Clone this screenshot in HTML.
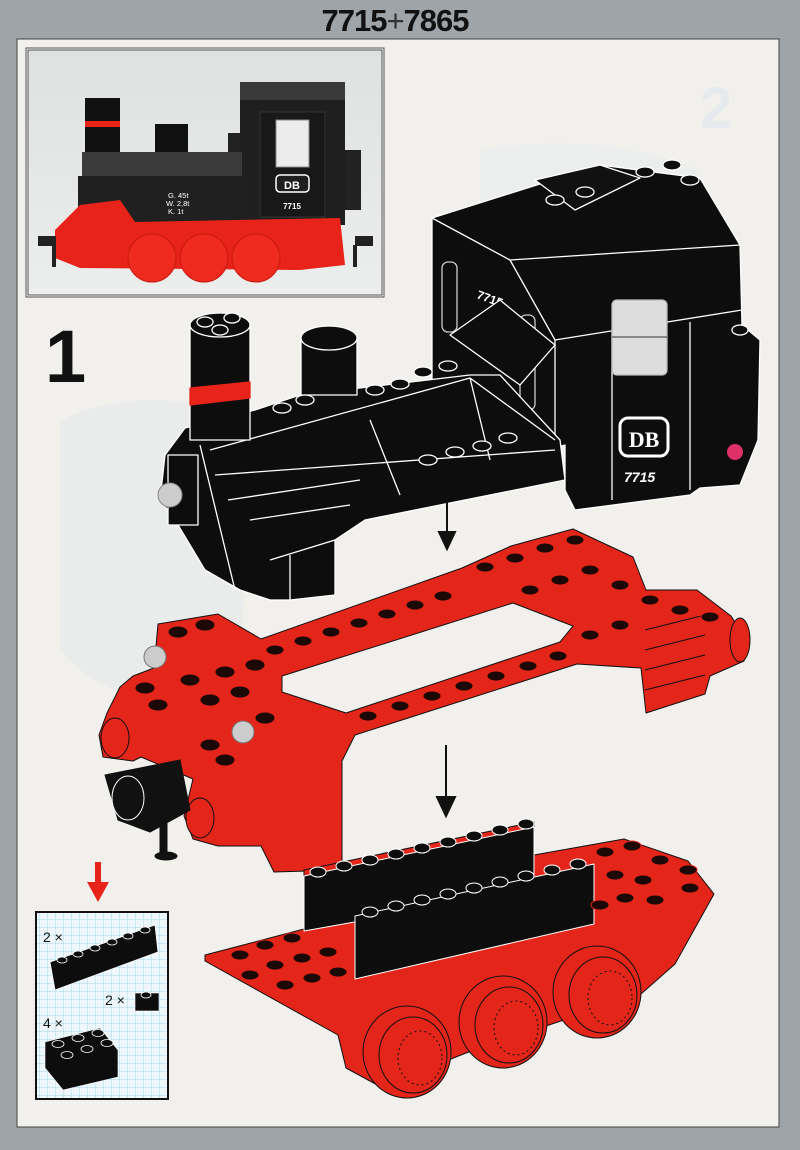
<!DOCTYPE html>
<html><head><meta charset="utf-8"><style>
html,body{margin:0;padding:0;width:800px;height:1150px;overflow:hidden;background:#9da3a7}
svg{display:block}
</style></head><body>
<svg width="800" height="1150" viewBox="0 0 800 1150" xmlns="http://www.w3.org/2000/svg" font-family="Liberation Sans, sans-serif">
<defs>
<pattern id="grid" width="8" height="8" patternUnits="userSpaceOnUse">
<rect width="8" height="8" fill="#eef7fb"/>
<path d="M8 0V8M0 8H8" stroke="#8ccbe8" stroke-width="0.7"/>
</pattern>
<linearGradient id="ph" x1="0" y1="0" x2="0" y2="1"><stop offset="0" stop-color="#dde1e0"/><stop offset="1" stop-color="#eceeed"/></linearGradient>
</defs>
<rect width="800" height="1150" fill="#9ea4a8"/>
<text x="395" y="31" text-anchor="middle" font-size="31" font-weight="bold" fill="#111" letter-spacing="-1">7715<tspan font-weight="normal" fill="#333">+</tspan>7865</text>
<rect x="17" y="39" width="762" height="1088" fill="#f1f0ec" stroke="#444" stroke-width="1"/>
<text x="700" y="128" font-size="58" font-weight="bold" fill="#e6eaed">2</text>
<path d="M60 420 Q150 380 250 420 L240 700 Q120 720 60 650Z" fill="#e6eaec" opacity="0.6"/>
<path d="M480 150 Q600 130 700 170 L720 300 L480 300Z" fill="#e8ecee" opacity="0.6"/>
<!-- photo -->
<rect x="26" y="48" width="358" height="249" fill="#f4f4f2" stroke="#555" stroke-width="1"/>
<rect x="28" y="50" width="354" height="245" fill="url(#ph)" stroke="#333" stroke-width="0.8"/>
<rect x="240" y="82" width="105" height="20" fill="#3a3a3a"/>
<rect x="240" y="100" width="105" height="125" fill="#1f1f1f"/>
<rect x="260" y="112" width="65" height="105" fill="#181818" stroke="#333"/>
<rect x="276" y="120" width="33" height="47" fill="#ececec" stroke="#888"/>
<rect x="276" y="175" width="33" height="17" rx="4" fill="#1f1f1f" stroke="#fff" stroke-width="1.5"/>
<text x="292" y="189" text-anchor="middle" font-size="11" font-weight="bold" fill="#fff">DB</text>
<text x="292" y="209" text-anchor="middle" font-size="8" font-weight="bold" fill="#fff">7715</text>
<rect x="228" y="133" width="12" height="20" fill="#222"/>
<rect x="345" y="150" width="16" height="60" fill="#222"/>
<rect x="85" y="98" width="35" height="55" fill="#111"/>
<rect x="85" y="121" width="35" height="6" fill="#e8241a"/>
<rect x="155" y="124" width="33" height="30" fill="#111"/>
<rect x="82" y="152" width="160" height="24" fill="#3b3b3b"/>
<rect x="78" y="176" width="170" height="46" fill="#202020"/>
<text x="168" y="198" font-size="7.5" fill="#fff">G. 45t</text>
<text x="166" y="206" font-size="7.5" fill="#fff">W. 2,8t</text>
<text x="168" y="214" font-size="7.5" fill="#fff">K.   1t</text>
<path d="M55 230 L80 205 L120 200 L135 222 L340 218 L345 265 L300 270 L80 268 L55 258Z" fill="#e8241a"/>
<rect x="38" y="236" width="18" height="10" fill="#222"/><rect x="52" y="245" width="4" height="22" fill="#222"/>
<rect x="355" y="236" width="18" height="10" fill="#222"/><rect x="353" y="245" width="4" height="22" fill="#222"/>
<circle cx="152" cy="258" r="24" fill="#ef2a1e" stroke="#c81810"/>
<circle cx="204" cy="258" r="24" fill="#ef2a1e" stroke="#c81810"/>
<circle cx="256" cy="258" r="24" fill="#ef2a1e" stroke="#c81810"/>
<text x="45" y="382" font-size="74" font-weight="bold" fill="#111">1</text>
<!-- BLACK LOCO -->
<g stroke="#fff" stroke-width="1.3" stroke-linejoin="round">
<path d="M432 218 L600 165 L700 178 L740 245 L742 325 L760 340 L758 440 L740 485 L700 488 L690 495 L575 510 L565 490 L565 445 L495 465 L432 470Z" fill="#0d0d0d"/>
<path d="M535 180 L600 165 L640 178 L575 210Z" fill="#111"/>
<path d="M432 218 L510 260 L740 245 M510 260 L555 340 L742 310 M555 340 L555 470 M612 330 L612 500 M690 322 L690 490" fill="none"/>
<rect x="612" y="300" width="55" height="75" rx="5" fill="#ddd" stroke="#bbb"/>
<path d="M612 337 H667" stroke="#555"/>
<rect x="442" y="262" width="15" height="70" rx="6" fill="#0d0d0d" stroke="#ccc"/>
<rect x="520" y="315" width="15" height="95" rx="6" fill="#0d0d0d" stroke="#ccc"/>
<text x="476" y="298" font-size="12" font-weight="bold" fill="#fff" stroke="none" transform="rotate(20 476 298)">7715</text>
<rect x="620" y="418" width="48" height="38" rx="8" fill="#0d0d0d" stroke="#fff" stroke-width="3"/>
<text x="644" y="447" text-anchor="middle" font-size="22" font-weight="bold" fill="#fff" stroke="none" font-family="Liberation Serif, serif">DB</text>
<text x="624" y="482" font-size="14" font-weight="bold" fill="#fff" stroke="none" font-style="italic">7715</text>
<path d="M450 335 L500 300 L555 345 L520 385Z" fill="#0d0d0d"/>
<path d="M165 455 L185 428 L255 410 L300 395 L470 375 L500 375 L560 440 L565 480 L365 520 L335 540 L335 595 L290 600 L270 600 L240 590 L205 570 L175 520 L160 500Z" fill="#0d0d0d"/>
<path d="M210 450 L470 378 L555 440 M215 475 L555 450 M228 500 L360 480 M250 520 L350 505 M335 540 L270 560 M290 600 L290 555 M370 420 L400 495 M470 378 L490 460 M200 445 L235 590" fill="none"/>
<path d="M190 325 V440 H250 V325Z" fill="#0d0d0d"/>
<ellipse cx="220" cy="325" rx="30" ry="12" fill="#0d0d0d"/>
<path d="M190 388 L250 382 L250 398 L190 405Z" fill="#e8241a" stroke="#e8241a"/>
<path d="M301 338 V395 H357 V338Z" fill="#0d0d0d"/>
<ellipse cx="329" cy="338" rx="28" ry="12" fill="#0d0d0d"/>
<ellipse cx="205" cy="322" rx="8" ry="5" fill="#0d0d0d"/><ellipse cx="232" cy="318" rx="8" ry="5" fill="#0d0d0d"/><ellipse cx="220" cy="330" rx="8" ry="5" fill="#0d0d0d"/>
<g fill="#0d0d0d">
<ellipse cx="282" cy="408" rx="9" ry="5"/><ellipse cx="305" cy="400" rx="9" ry="5"/><ellipse cx="375" cy="390" rx="9" ry="5"/><ellipse cx="400" cy="384" rx="9" ry="5"/><ellipse cx="423" cy="372" rx="9" ry="5"/><ellipse cx="448" cy="366" rx="9" ry="5"/><ellipse cx="428" cy="460" rx="9" ry="5"/><ellipse cx="455" cy="452" rx="9" ry="5"/><ellipse cx="482" cy="446" rx="9" ry="5"/><ellipse cx="508" cy="438" rx="9" ry="5"/><ellipse cx="555" cy="200" rx="9" ry="5"/><ellipse cx="585" cy="192" rx="9" ry="5"/><ellipse cx="645" cy="172" rx="9" ry="5"/><ellipse cx="672" cy="165" rx="9" ry="5"/><ellipse cx="690" cy="180" rx="9" ry="5"/><ellipse cx="740" cy="330" rx="8" ry="5"/>
</g>
<rect x="168" y="455" width="30" height="70" fill="#0d0d0d"/>
</g>
<circle cx="170" cy="495" r="12" fill="#ccc" stroke="#888"/>
<circle cx="735" cy="452" r="8" fill="#e0306a"/>
<g stroke="#111" stroke-width="2" fill="#111">
<line x1="447" y1="497" x2="447" y2="535"/><path d="M439 532 L455 532 L447 549Z"/>
<line x1="446" y1="745" x2="446" y2="800"/><path d="M437 797 L455 797 L446 816Z"/>
</g>
<rect x="95" y="862" width="6" height="22" fill="#e8241a"/><path d="M87 882 L109 882 L98 902Z" fill="#e8241a"/>
<!-- RED CHASSIS -->
<g stroke="#111" stroke-width="1" stroke-linejoin="round">
<path d="M158 624 L218 614 L261 639 L462 568 L511 546 L573 529 L633 557 L646 590 L697 590 L731 616 L748 642 L744 661 L710 676 L705 694 L646 713 L641 668 L577 664 L355 735 L342 761 L342 870 L274 872 L261 846 L218 846 L193 839 L184 816 L193 779 L141 757 L133 761 L103 757 L99 735 L107 713 L120 687 L133 676 L154 668Z" fill="#e42519"/>
<path d="M282 676 L513 603 L573 626 L560 642 L346 713 L282 692Z" fill="#f1f0ec"/>
<path d="M645 630 L705 615 M645 650 L705 635 M645 670 L705 655 M645 690 L705 675" stroke="#111" fill="none"/>
<ellipse cx="115" cy="738" rx="14" ry="20" fill="#e42519"/>
<ellipse cx="200" cy="818" rx="14" ry="20" fill="#e42519"/>
<ellipse cx="740" cy="640" rx="10" ry="22" fill="#e42519"/>
<path d="M105 775 L180 760 L190 810 L150 832 L118 820Z" fill="#111"/>
<ellipse cx="128" cy="798" rx="16" ry="22" fill="#111" stroke="#fff"/>
<rect x="160" y="810" width="7" height="45" fill="#111"/>
<ellipse cx="166" cy="856" rx="11" ry="4" fill="#111"/>
<g fill="#1c0806" stroke="#e42519">
<ellipse cx="178" cy="632" rx="10" ry="6"/><ellipse cx="205" cy="625" rx="10" ry="6"/><ellipse cx="145" cy="688" rx="10" ry="6"/><ellipse cx="190" cy="680" rx="10" ry="6"/><ellipse cx="225" cy="672" rx="10" ry="6"/><ellipse cx="255" cy="665" rx="10" ry="6"/><ellipse cx="158" cy="705" rx="10" ry="6"/><ellipse cx="210" cy="700" rx="10" ry="6"/><ellipse cx="240" cy="692" rx="10" ry="6"/><ellipse cx="265" cy="718" rx="10" ry="6"/><ellipse cx="210" cy="745" rx="10" ry="6"/><ellipse cx="225" cy="760" rx="10" ry="6"/>
<ellipse cx="275" cy="650" rx="9" ry="5"/><ellipse cx="303" cy="641" rx="9" ry="5"/><ellipse cx="331" cy="632" rx="9" ry="5"/><ellipse cx="359" cy="623" rx="9" ry="5"/><ellipse cx="387" cy="614" rx="9" ry="5"/><ellipse cx="415" cy="605" rx="9" ry="5"/><ellipse cx="443" cy="596" rx="9" ry="5"/><ellipse cx="485" cy="567" rx="9" ry="5"/><ellipse cx="515" cy="558" rx="9" ry="5"/><ellipse cx="545" cy="548" rx="9" ry="5"/><ellipse cx="575" cy="540" rx="9" ry="5"/><ellipse cx="530" cy="590" rx="9" ry="5"/><ellipse cx="560" cy="580" rx="9" ry="5"/><ellipse cx="590" cy="570" rx="9" ry="5"/><ellipse cx="620" cy="585" rx="9" ry="5"/><ellipse cx="650" cy="600" rx="9" ry="5"/><ellipse cx="680" cy="610" rx="9" ry="5"/><ellipse cx="710" cy="617" rx="9" ry="5"/><ellipse cx="590" cy="635" rx="9" ry="5"/><ellipse cx="620" cy="625" rx="9" ry="5"/>
<ellipse cx="368" cy="716" rx="9" ry="5"/><ellipse cx="400" cy="706" rx="9" ry="5"/><ellipse cx="432" cy="696" rx="9" ry="5"/><ellipse cx="464" cy="686" rx="9" ry="5"/><ellipse cx="496" cy="676" rx="9" ry="5"/><ellipse cx="528" cy="666" rx="9" ry="5"/><ellipse cx="558" cy="656" rx="9" ry="5"/>
</g>
</g>
<circle cx="155" cy="657" r="11" fill="#ccc" stroke="#777"/>
<circle cx="243" cy="732" r="11" fill="#ccc" stroke="#777"/>
<!-- WHEEL BASE -->
<g stroke="#111" stroke-width="1" stroke-linejoin="round">
<path d="M205 955 L304 929 L304 870 L534 822 L534 855 L624 839 L688 861 L714 894 L675 964 L641 994 L466 1053 L381 1087 L346 1068 L338 1035 L205 961Z" fill="#e42519"/>
<path d="M304 876 L534 827 L534 890 L304 931Z" fill="#0d0d0d" stroke="#fff"/>
<path d="M355 916 L594 864 L594 924 L355 979Z" fill="#0d0d0d" stroke="#fff"/>
<g fill="#0d0d0d" stroke="#fff">
<ellipse cx="318" cy="872" rx="8" ry="5"/><ellipse cx="344" cy="866" rx="8" ry="5"/><ellipse cx="370" cy="860" rx="8" ry="5"/><ellipse cx="396" cy="854" rx="8" ry="5"/><ellipse cx="422" cy="848" rx="8" ry="5"/><ellipse cx="448" cy="842" rx="8" ry="5"/><ellipse cx="474" cy="836" rx="8" ry="5"/><ellipse cx="500" cy="830" rx="8" ry="5"/><ellipse cx="526" cy="824" rx="8" ry="5"/>
<ellipse cx="370" cy="912" rx="8" ry="5"/><ellipse cx="396" cy="906" rx="8" ry="5"/><ellipse cx="422" cy="900" rx="8" ry="5"/><ellipse cx="448" cy="894" rx="8" ry="5"/><ellipse cx="474" cy="888" rx="8" ry="5"/><ellipse cx="500" cy="882" rx="8" ry="5"/><ellipse cx="526" cy="876" rx="8" ry="5"/><ellipse cx="552" cy="870" rx="8" ry="5"/><ellipse cx="578" cy="864" rx="8" ry="5"/>
</g>
<g fill="#1c0806" stroke="#e42519">
<ellipse cx="265" cy="945" rx="9" ry="5"/><ellipse cx="292" cy="938" rx="9" ry="5"/><ellipse cx="275" cy="965" rx="9" ry="5"/><ellipse cx="302" cy="958" rx="9" ry="5"/><ellipse cx="328" cy="952" rx="9" ry="5"/><ellipse cx="285" cy="985" rx="9" ry="5"/><ellipse cx="312" cy="978" rx="9" ry="5"/><ellipse cx="338" cy="972" rx="9" ry="5"/><ellipse cx="240" cy="955" rx="9" ry="5"/><ellipse cx="250" cy="975" rx="9" ry="5"/>
<ellipse cx="605" cy="852" rx="9" ry="5"/><ellipse cx="632" cy="846" rx="9" ry="5"/><ellipse cx="660" cy="860" rx="9" ry="5"/><ellipse cx="688" cy="870" rx="9" ry="5"/><ellipse cx="615" cy="875" rx="9" ry="5"/><ellipse cx="643" cy="880" rx="9" ry="5"/><ellipse cx="625" cy="898" rx="9" ry="5"/><ellipse cx="655" cy="900" rx="9" ry="5"/><ellipse cx="690" cy="888" rx="9" ry="5"/><ellipse cx="600" cy="905" rx="9" ry="5"/>
</g>
<g fill="#e42519">
<ellipse cx="407" cy="1052" rx="44" ry="46"/><ellipse cx="413" cy="1055" rx="34" ry="38"/>
<ellipse cx="503" cy="1022" rx="44" ry="46"/><ellipse cx="509" cy="1025" rx="34" ry="38"/>
<ellipse cx="597" cy="992" rx="44" ry="46"/><ellipse cx="603" cy="995" rx="34" ry="38"/>
</g>
<g fill="none" stroke-dasharray="2 3">
<ellipse cx="420" cy="1058" rx="22" ry="27"/><ellipse cx="516" cy="1028" rx="22" ry="27"/><ellipse cx="610" cy="998" rx="22" ry="27"/>
</g>
</g>
<!-- parts box -->
<rect x="36" y="912" width="132" height="187" fill="url(#grid)" stroke="#111" stroke-width="2"/>
<text x="43" y="942" font-size="14" fill="#111">2 ×</text>
<path d="M50 962 L155 925 L158 952 L55 990Z" fill="#0d0d0d" stroke="#fff" stroke-width="0.8"/>
<g fill="#0d0d0d" stroke="#fff" stroke-width="0.8">
<ellipse cx="62" cy="960" rx="5" ry="3"/><ellipse cx="78" cy="954" rx="5" ry="3"/><ellipse cx="95" cy="948" rx="5" ry="3"/><ellipse cx="112" cy="942" rx="5" ry="3"/><ellipse cx="128" cy="936" rx="5" ry="3"/><ellipse cx="145" cy="930" rx="5" ry="3"/>
</g>
<text x="105" y="1005" font-size="14" fill="#111">2 ×</text>
<rect x="135" y="993" width="24" height="18" fill="#0d0d0d" stroke="#fff" stroke-width="0.6"/>
<ellipse cx="146" cy="995" rx="5" ry="3" fill="#0d0d0d" stroke="#fff" stroke-width="0.8"/>
<text x="43" y="1028" font-size="14" fill="#111">4 ×</text>
<path d="M45 1042 L100 1028 L118 1050 L118 1077 L63 1090 L45 1068Z" fill="#0d0d0d" stroke="#fff" stroke-width="0.6"/>
<g fill="#0d0d0d" stroke="#fff" stroke-width="0.8">
<ellipse cx="58" cy="1044" rx="6" ry="3.5"/><ellipse cx="78" cy="1038" rx="6" ry="3.5"/><ellipse cx="98" cy="1033" rx="6" ry="3.5"/><ellipse cx="67" cy="1055" rx="6" ry="3.5"/><ellipse cx="87" cy="1049" rx="6" ry="3.5"/><ellipse cx="107" cy="1043" rx="6" ry="3.5"/>
</g>
</svg>
</body></html>
